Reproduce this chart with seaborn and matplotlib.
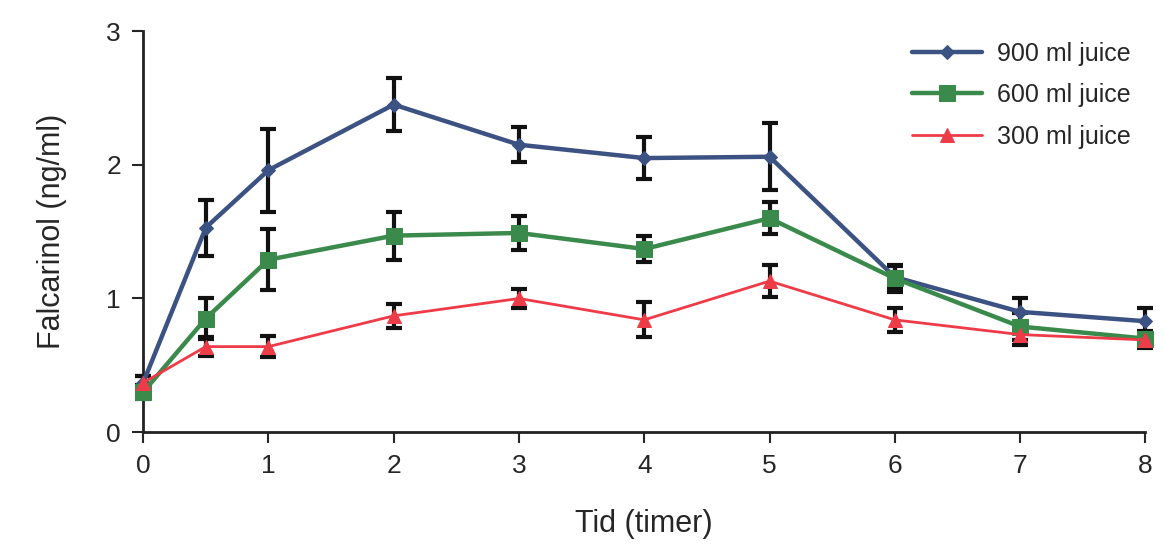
import seaborn as sns
import matplotlib.pyplot as plt
import pandas as pd

# tid (timer)
hours = [0, 0.5, 1, 2, 3, 4, 5, 6, 7, 8]

# falcarinol mean + error per dose
juice_900 = [0.37, 1.53, 1.96, 2.45, 2.15, 2.05, 2.06, 1.16, 0.90, 0.83]
err_900 = [0.05, 0.21, 0.31, 0.20, 0.13, 0.16, 0.25, 0.08, 0.10, 0.10]
juice_600 = [0.30, 0.85, 1.29, 1.47, 1.49, 1.37, 1.60, 1.15, 0.79, 0.70]
err_600 = [0.05, 0.15, 0.23, 0.18, 0.13, 0.10, 0.12, 0.10, 0.10, 0.06]
juice_300 = [0.37, 0.64, 0.64, 0.87, 1.00, 0.84, 1.13, 0.84, 0.73, 0.69]
err_300 = [0.05, 0.07, 0.08, 0.09, 0.07, 0.13, 0.12, 0.09, 0.08, 0.06]

labels = ["900 ml juice", "600 ml juice", "300 ml juice"]
colors = ["#3b5283", "#3a8a4c", "#ee3b48"]
markers = ["D", "s", "^"]

rows = []
for lab, vals, errs in zip(labels, [juice_900, juice_600, juice_300],
                           [err_900, err_600, err_300]):
    for h, v, e in zip(hours, vals, errs):
        rows.append({"Tid": h, "Falcarinol": v, "err": e, "Dose": lab})
df = pd.DataFrame(rows)

sns.set_style("ticks")
plt.rcParams["font.family"] = ["Liberation Sans", "DejaVu Sans"]

fig, ax = plt.subplots(figsize=(11.64, 5.45), dpi=100)

# error bars first so markers sit on top
for lab in labels:
    sub = df[df["Dose"] == lab]
    eb = ax.errorbar(sub["Tid"], sub["Falcarinol"], yerr=sub["err"],
                     fmt="none", ecolor="#111111", elinewidth=3, capsize=6,
                     capthick=3, zorder=2)
    for art in eb.lines[1] + eb.lines[2]:
        art.set_clip_on(False)

sizes = {"900 ml juice": 7, "600 ml juice": 12, "300 ml juice": 10}
for lab, col, mk in zip(labels, colors, markers):
    sub = df[df["Dose"] == lab]
    lw = 2 if lab == "300 ml juice" else 3.2
    sns.lineplot(data=sub, x="Tid", y="Falcarinol", color=col, marker=mk,
                 markersize=sizes[lab], markeredgecolor=col, linewidth=lw,
                 label=lab, ax=ax, zorder=3, clip_on=False)

ax.set_xlim(0, 8)
ax.set_ylim(0, 3)
ax.set_xticks(range(0, 9))
ax.set_yticks([0, 1, 2, 3])
ax.tick_params(axis="both", labelsize=19, width=1.5, length=8,
               direction="out", pad=8)
ax.set_xlabel("Tid (timer)", fontsize=22, labelpad=22)
ax.set_ylabel("Falcarinol (ng/ml)", fontsize=22, labelpad=28)
sns.despine(ax=ax)
for s in ["left", "bottom"]:
    ax.spines[s].set_linewidth(2)
    ax.spines[s].set_color("#222222")

ax.legend(loc="upper right", frameon=False, fontsize=18, handlelength=2.8,
          handletextpad=0.6, labelspacing=0.7, bbox_to_anchor=(1.008, 1.03))

fig.subplots_adjust(left=0.123, right=0.984, top=0.943, bottom=0.207)
fig.savefig("out.png")
